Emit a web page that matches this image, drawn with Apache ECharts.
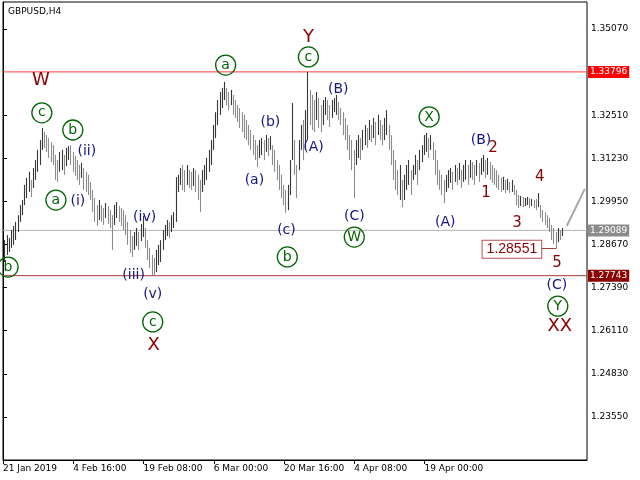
<!DOCTYPE html>
<html><head><meta charset="utf-8">
<script src="https://cdn.jsdelivr.net/npm/echarts@6/dist/echarts.min.js"></script>
<style>html,body{margin:0;padding:0;background:#fff}#c{width:640px;height:480px}</style>
</head><body><div id="c"></div><script>
// H4 bars (high / low), bar 1 .. 255
const highs=[
1.2880,1.2895,1.2886,1.2910,1.2922,1.2934,1.2954,1.2984,1.2999,1.3044,
1.3065,1.3083,1.3059,1.3094,1.3118,1.3148,1.3177,1.3213,1.3201,1.3192,
1.3183,1.3171,1.3162,1.3133,1.3118,1.3142,1.3148,1.3133,1.3154,1.3159,
1.3162,1.3142,1.3130,1.3118,1.3103,1.3109,1.3094,1.3083,1.3074,1.3053,
1.3029,1.3005,1.2984,1.2999,1.2984,1.2975,1.2990,1.2981,1.2969,1.2954,
1.2984,1.2993,1.2981,1.2975,1.2969,1.2954,1.2934,1.2910,1.2892,1.2904,
1.2916,1.2904,1.2928,1.2952,1.2916,1.2880,1.2857,1.2836,1.2827,1.2851,
1.2866,1.2880,1.2910,1.2925,1.2940,1.2934,1.2954,1.2963,1.3067,1.3074,
1.3094,1.3103,1.3088,1.3103,1.3088,1.3083,1.3094,1.3088,1.3074,1.3059,
1.3088,1.3103,1.3124,1.3148,1.3177,1.3222,1.3260,1.3296,1.3320,1.3332,
1.3350,1.3332,1.3320,1.3326,1.3311,1.3296,1.3281,1.3272,1.3260,1.3252,
1.3237,1.3222,1.3207,1.3192,1.3177,1.3162,1.3177,1.3183,1.3177,1.3192,
1.3183,1.3189,1.3162,1.3148,1.3118,1.3103,1.3074,1.3044,1.3029,1.3044,
1.3118,1.3287,1.3177,1.3103,1.3177,1.3222,1.3237,1.3266,1.3380,1.3326,
1.3311,1.3296,1.3320,1.3302,1.3281,1.3296,1.3305,1.3296,1.3281,1.3296,
1.3302,1.3311,1.3290,1.3272,1.3260,1.3243,1.3222,1.3192,1.3177,1.3148,
1.3177,1.3192,1.3183,1.3207,1.3222,1.3213,1.3237,1.3222,1.3243,1.3231,
1.3252,1.3237,1.3222,1.3243,1.3266,1.3222,1.3192,1.3148,1.3118,1.3088,
1.3103,1.3059,1.3074,1.3103,1.3118,1.3088,1.3103,1.3133,1.3118,1.3148,
1.3162,1.3192,1.3198,1.3183,1.3192,1.3171,1.3148,1.3118,1.3088,1.3074,
1.3059,1.3074,1.3088,1.3094,1.3083,1.3103,1.3094,1.3109,1.3088,1.3103,
1.3118,1.3103,1.3118,1.3112,1.3103,1.3118,1.3109,1.3124,1.3133,1.3118,
1.3124,1.3112,1.3103,1.3094,1.3088,1.3074,1.3065,1.3068,1.3059,1.3062,
1.3053,1.3059,1.3044,1.3029,1.3014,1.3011,1.3008,1.3005,1.3008,1.3005,
1.3002,1.2999,1.3002,1.3020,1.2984,1.2969,1.2963,1.2954,1.2946,1.2925,
1.2916,1.2904,1.2916,1.2910,1.2916];
const lows=[
1.2815,1.2836,1.2845,1.2857,1.2866,1.2880,1.2904,1.2934,1.2954,1.2984,
1.3005,1.3023,1.3008,1.3035,1.3059,1.3083,1.3103,1.3148,1.3154,1.3142,
1.3124,1.3112,1.3103,1.3059,1.3053,1.3083,1.3088,1.3074,1.3100,1.3118,
1.3103,1.3083,1.3071,1.3059,1.3044,1.3065,1.3029,1.3023,1.3014,1.2999,
1.2963,1.2934,1.2922,1.2940,1.2934,1.2925,1.2946,1.2928,1.2916,1.2851,
1.2925,1.2946,1.2934,1.2922,1.2910,1.2895,1.2866,1.2842,1.2830,1.2851,
1.2863,1.2851,1.2877,1.2889,1.2857,1.2821,1.2797,1.2776,1.2774,1.2785,
1.2806,1.2815,1.2851,1.2880,1.2892,1.2886,1.2904,1.2916,1.2934,1.3023,
1.3044,1.3029,1.3023,1.3044,1.3035,1.3029,1.3041,1.3023,1.2999,1.2963,
1.3023,1.3044,1.3059,1.3083,1.3103,1.3148,1.3183,1.3222,1.3252,1.3272,
1.3296,1.3281,1.3266,1.3281,1.3252,1.3243,1.3231,1.3213,1.3201,1.3183,
1.3177,1.3162,1.3148,1.3133,1.3118,1.3097,1.3124,1.3133,1.3118,1.3142,
1.3130,1.3148,1.3103,1.3083,1.3059,1.3029,1.3005,1.2984,1.2961,1.2969,
1.3014,1.3118,1.3074,1.3005,1.3088,1.3148,1.3118,1.3148,1.3177,1.3222,
1.3207,1.3201,1.3237,1.3213,1.3201,1.3222,1.3252,1.3237,1.3216,1.3243,
1.3260,1.3252,1.3237,1.3222,1.3192,1.3177,1.3148,1.3118,1.3088,1.3005,
1.3103,1.3124,1.3118,1.3148,1.3162,1.3154,1.3177,1.3171,1.3183,1.3162,
1.3192,1.3177,1.3162,1.3177,1.3192,1.3148,1.3103,1.3059,1.3029,1.3014,
1.2999,1.2978,1.2999,1.3029,1.3044,1.3014,1.3059,1.3074,1.3044,1.3088,
1.3112,1.3133,1.3142,1.3124,1.3148,1.3118,1.3074,1.3044,1.3029,1.3014,
1.2990,1.3023,1.3035,1.3050,1.3029,1.3053,1.3044,1.3059,1.3035,1.3053,
1.3059,1.3044,1.3065,1.3059,1.3044,1.3071,1.3053,1.3074,1.3083,1.3065,
1.3074,1.3059,1.3050,1.3044,1.3035,1.3029,1.3023,1.3029,1.3020,1.3029,
1.3020,1.3023,1.3014,1.2984,1.2975,1.2981,1.2978,1.2981,1.2984,1.2975,
1.2981,1.2975,1.2969,1.2978,1.2946,1.2934,1.2925,1.2916,1.2904,1.2880,
1.2869,1.2855,1.2874,1.2880,1.2892];

const timeLabels=['21 Jan 2019','4 Feb 16:00','19 Feb 08:00','6 Mar 00:00','20 Mar 16:00','4 Apr 08:00','19 Apr 00:00'];
const timeLabelBars=[0,32,64,96,128,160,192];
const totalSlots=267;
const priceTicks=[1.35070,1.32510,1.31230,1.29950,1.28670,1.27390,1.26110,1.24830,1.23550];
const levelHigh=1.33796, levelCurrent=1.29089, levelLow=1.27743, markedLow=1.28551;

// wave annotations: [text, bar position, price]
const waveMajor=[['W',17.3,1.3356],['Y',139.1,1.3483],['X',68.6,1.2568],['XX',253.6,1.2625]];
const waveMinor=[['1',220,1.3020],['2',223.2,1.3154],['3',234.1,1.2931],['4',244.5,1.3067],['5',252.3,1.2812]];
const waveBlue=[['(ii)',38.2,1.3145],['(i)',34.1,1.2996],['(iv)',64.5,1.2949],['(iii)',59.5,1.2776],['(v)',68.2,1.2720],
 ['(a)',114.5,1.3056],['(b)',121.8,1.3231],['(c)',129.1,1.2910],['(A)',141.4,1.3154],['(B)',152.7,1.3329],['(C)',160,1.2952],
 ['(A)',201.4,1.2934],['(B)',217.7,1.3177],['(C)',252.3,1.2747]];
const waveCircled=[['c',17.7,1.3258],['b',31.8,1.3207],['a',24.1,1.2999],['b',2.3,1.2800],['c',68.2,1.2637],['a',101.4,1.3400],
 ['c',139.1,1.3424],['b',129.5,1.2830],['W',160,1.2889],['X',194.1,1.3246],['Y',252.7,1.2684]];
const lowBox=[231.8,1.2853];
const lowConnector=[[245.3,markedLow],[252,markedLow]];
const projection=[[256.8,1.2922],[265,1.3032]];

const cats=[];
for(let i=0;i<totalSlots;i++){const k=timeLabelBars.indexOf(i);cats.push(k>=0?timeLabels[k]:'');}
const candles=['-'];
for(let i=0;i<highs.length;i++){
  const mid=(highs[i]+lows[i])/2, prev=i>0?(highs[i-1]+lows[i-1])/2:mid;
  candles.push(mid>=prev?[lows[i],highs[i],lows[i],highs[i]]:[highs[i],lows[i],lows[i],highs[i]]);
}
const F='DejaVu Sans';
function textSeries(arr,color,size){
  return {type:'scatter',xAxisIndex:1,yAxisIndex:0,symbolSize:1,itemStyle:{color:'rgba(0,0,0,0)',opacity:1},silent:true,z:5,
    data:arr.map(a=>({name:a[0],value:[a[1],a[2]]})),
    label:{show:true,position:'inside',formatter:p=>p.name,color:color,fontSize:size,fontFamily:F}};
}
function levelSeries(v,lineColor,bg){
  return {type:'line',xAxisIndex:1,yAxisIndex:0,data:[[0,v],[totalSlots-1,v]],symbol:'none',silent:true,z:1,
    lineStyle:{color:lineColor,width:1},
    endLabel:{show:true,distance:1,formatter:()=>v.toFixed(5),color:'#fff',backgroundColor:bg,
      fontSize:9,fontFamily:F,padding:[2,2,1,2]}};
}
const chart=echarts.init(document.getElementById('c'),null,{renderer:'canvas'});
chart.setOption({
  animation:false,backgroundColor:'#fff',
  title:{text:'GBPUSD,H4',left:3,top:2,textStyle:{fontSize:9,fontWeight:'normal',color:'#000',fontFamily:F}},
  grid:{left:2,top:2,right:53,bottom:20,show:true,borderColor:'#000',borderWidth:1},
  xAxis:[{type:'category',data:cats,boundaryGap:false,
    axisLine:{lineStyle:{color:'#000'}},
    axisTick:{interval:i=>timeLabelBars.includes(i),length:4,lineStyle:{color:'#000'}},
    axisLabel:{interval:i=>timeLabelBars.includes(i),align:'left',margin:4,fontSize:9,color:'#000',fontFamily:F},
    splitLine:{show:false}},
   {type:'value',min:0,max:totalSlots-1,show:false}],
  yAxis:{type:'value',position:'right',min:1.22269,max:1.35872,scale:true,
    axisLine:{show:true,lineStyle:{color:'#000'}},
    axisTick:{show:true,customValues:priceTicks,length:4,lineStyle:{color:'#000'}},
    axisLabel:{customValues:priceTicks,formatter:v=>v.toFixed(5),margin:4,fontSize:9,color:'#000',fontFamily:F},
    splitLine:{show:false}},
  series:[
    levelSeries(levelHigh,'#ff3c3c','#ff0000'),
    levelSeries(levelCurrent,'#b4b4b4','#8c8c8c'),
    levelSeries(levelLow,'#a33a3a','#8b0000'),
    {type:'candlestick',data:candles,barWidth:1,z:2,
      itemStyle:{color:'#383838',color0:'#8c8c8c',borderColor:'#383838',borderColor0:'#8c8c8c',borderWidth:1.1}},
    textSeries(waveMajor,'#8b0000',18),
    textSeries(waveMinor,'#8b0000',15),
    textSeries(waveBlue,'#141482',14),
    {type:'scatter',xAxisIndex:1,yAxisIndex:0,symbol:'circle',symbolSize:20,silent:true,z:6,
      itemStyle:{color:'rgba(0,0,0,0)',borderColor:'#006400',borderWidth:1.3,opacity:1},
      data:waveCircled.map(a=>({name:a[0],value:[a[1],a[2]]})),
      label:{show:true,position:'inside',formatter:p=>p.name,fontSize:14,fontFamily:F,color:'#006400'}},
    {type:'scatter',xAxisIndex:1,yAxisIndex:0,symbolSize:1,itemStyle:{color:'rgba(0,0,0,0)',opacity:1},silent:true,z:7,
      data:[{name:markedLow.toFixed(5),value:lowBox}],
      label:{show:true,position:'inside',formatter:p=>p.name,color:'#8b0000',fontSize:14,fontFamily:'Liberation Sans',
        backgroundColor:'#fff',borderColor:'#b85050',borderWidth:1,padding:[2,4,1,4]}},
    {type:'line',xAxisIndex:1,yAxisIndex:0,data:lowConnector,symbol:'none',lineStyle:{color:'#a33a3a',width:1},silent:true},
    {type:'line',xAxisIndex:1,yAxisIndex:0,data:projection,symbol:'none',lineStyle:{color:'#a8a8a8',width:2},silent:true}
  ]
});
</script></body></html>
